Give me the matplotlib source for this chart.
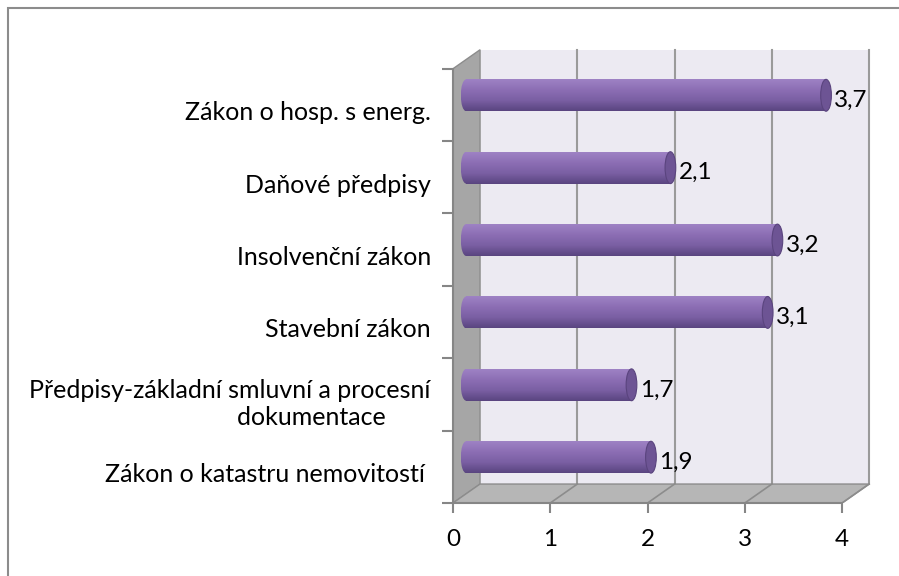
import numpy as np
import matplotlib
matplotlib.use("Agg")
import matplotlib.pyplot as plt
from matplotlib.patches import Rectangle, Ellipse, Polygon
from matplotlib.colors import LinearSegmentedColormap

# data (bottom to top)
labels = ["Zákon o katastru nemovitostí ",
          "Předpisy-základní smluvní a procesní\ndokumentace       ",
          "Stavební zákon",
          "Insolvenční zákon",
          "Daňové předpisy",
          "Zákon o hosp. s energ."]
values = [1.9, 1.7, 3.1, 3.2, 2.1, 3.7]
value_text = ["1,9", "1,7", "3,1", "3,2", "2,1", "3,7"]
xticks = [0, 1, 2, 3, 4]

plt.rcParams['font.family'] = ['Lato', 'DejaVu Sans']

fig = plt.figure(figsize=(8.99, 5.76), dpi=100)
ax = fig.add_axes([453/899, (576-503)/576, 428/899, 456/576])

# 3d depth offsets (data units)
dx, dy = 0.278, 0.262
n = len(values)
ybot, ytop = -0.5, n - 0.5

# walls
wall = '#eceaf2'
ax.add_patch(Polygon([(dx, ybot+dy), (4+dx, ybot+dy), (4+dx, ytop+dy), (dx, ytop+dy)],
                     closed=True, fc=wall, ec='none', zorder=1))
ax.add_patch(Polygon([(0, ybot), (0, ytop), (dx, ytop+dy), (dx, ybot+dy)],
                     closed=True, fc='#a6a6a6', ec='#8c8c8c', lw=1, zorder=2))
ax.add_patch(Polygon([(0, ybot), (4, ybot), (4+dx, ybot+dy), (dx, ybot+dy)],
                     closed=True, fc='#b6b6b6', ec='#8c8c8c', lw=1, zorder=2))
for k in xticks[1:]:
    ax.plot([k+dx, k+dx], [ybot+dy, ytop+dy], color='#9a9a9a', lw=1.5, zorder=1.5)
    ax.plot([k, k+dx], [ybot, ybot+dy], color='#8c8c8c', lw=1.2, zorder=2.5)

# bars as cylinders (light on top, dark at bottom)
cmap = LinearSegmentedColormap.from_list('cyl', ['#9e82c4', '#8c6eb4', '#7a5fa3', '#5a4580'])
grad = np.linspace(0, 1, 64).reshape(-1, 1)
h = 0.44
rx = 0.055
ox, oy = 0.135, 0.133
for i, v in enumerate(values):
    c = i + oy
    body = Rectangle((ox, c-h/2), v, h, fc='none', ec='none')
    ax.add_patch(body)
    im = ax.imshow(grad, extent=[ox, ox+v, c-h/2, c+h/2], origin='lower', aspect='auto',
                   cmap=cmap.reversed(), zorder=3)
    im.set_clip_path(body)
    left = Ellipse((ox, c), 2*rx, h, fc='none', ec='none')
    ax.add_patch(left)
    im2 = ax.imshow(grad, extent=[ox-rx, ox+rx, c-h/2, c+h/2], origin='lower', aspect='auto',
                    cmap=cmap.reversed(), zorder=3)
    im2.set_clip_path(left)
    ax.add_patch(Ellipse((ox+v, c), 2*rx, h, fc='#6d5494', ec='#5a447e', lw=0.8, zorder=4))
    ax.text(ox+v+rx+0.03, c-0.07, value_text[i], ha='left', va='center', fontsize=17.5, zorder=5)

# axes lines and ticks
ax.plot([0, 0], [ybot, ytop], color='#868686', lw=1.5, zorder=6, clip_on=False)
ax.plot([0, 4], [ybot, ybot], color='#868686', lw=1.5, zorder=6, clip_on=False)

ax.set_xlim(0, 4.4)
ax.set_ylim(-0.5, 5.8)
for s in ax.spines.values():
    s.set_visible(False)
ax.patch.set_visible(False)

ax.set_xticks(xticks)
ax.set_xticklabels([str(t) for t in xticks], fontsize=17.5)
ax.tick_params(axis='x', length=7, width=1.5, color='#868686', pad=12)

ax.set_yticks(np.arange(n) - 0.08)
ax.set_yticklabels(labels, fontsize=18, multialignment='right', linespacing=1.2)
ax.set_yticks(np.arange(n+1) - 0.5, minor=True)
ax.tick_params(axis='y', which='major', length=0, pad=16)
ax.tick_params(axis='y', which='minor', length=8, width=1.5, color='#868686')

# outer chart border
fig.add_artist(Rectangle((8/899, -0.5), 2, 1 - 7.5/576 + 0.5, transform=fig.transFigure,
                         fc='none', ec='#8c8c8c', lw=1.5))

fig.savefig('out.png', dpi=100)
